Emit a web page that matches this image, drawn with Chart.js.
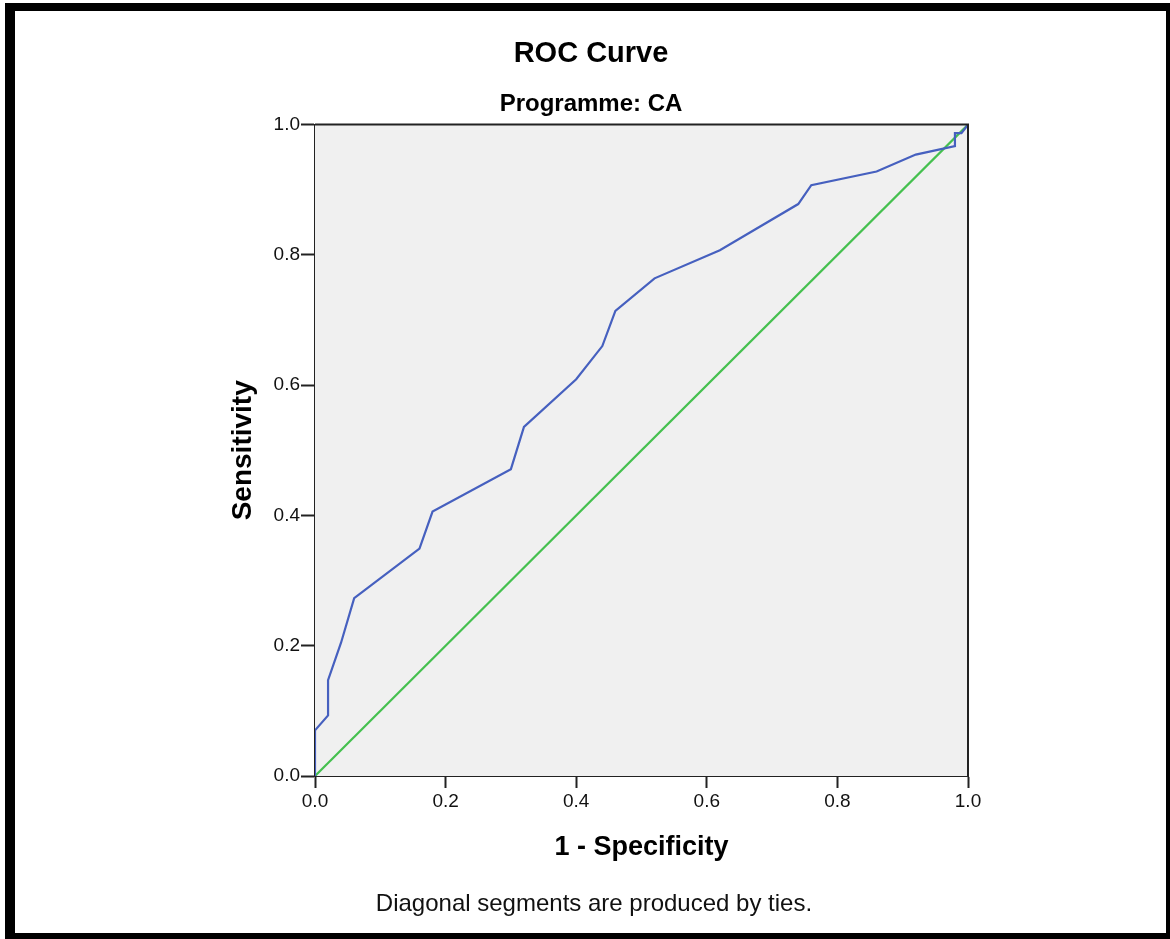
<!DOCTYPE html>
<html>
<head>
<meta charset="utf-8">
<title>ROC Curve</title>
<script src="https://cdn.jsdelivr.net/npm/chart.js@4.4.1/dist/chart.umd.min.js"></script>
<style>
  html, body { margin: 0; padding: 0; background: #fff; }
  #wrap { position: absolute; left: 0; top: 0; width: 1170px; height: 939px; }
  #frame {
    position: absolute; left: 5px; top: 3px; width: 1165px; height: 936px;
    box-sizing: border-box; border: solid #000; border-width: 8px 4px 6px 10px;
    pointer-events: none;
  }
  #note {
    position: absolute; left: 0; top: 889px; width: 1188px; text-align: center;
    font: 24px "Liberation Sans", Arial, sans-serif; line-height: 28px; color: #111;
  }
</style>
</head>
<body>
<div id="wrap"><canvas id="roc"></canvas></div>
<div id="frame"></div>
<div id="note">Diagonal segments are produced by ties.</div>
<script>
  // ROC points
  const fpr = [0, 0, 0.02, 0.02, 0.04, 0.06, 0.16, 0.18, 0.30, 0.32, 0.40, 0.44, 0.46, 0.52, 0.62, 0.74, 0.76, 0.86, 0.92, 0.98, 0.98, 0.99, 1.0];
  const tpr = [0, 0.07, 0.093, 0.147, 0.205, 0.273, 0.349, 0.406, 0.471, 0.536, 0.609, 0.66, 0.714, 0.764, 0.807, 0.878, 0.907, 0.928, 0.954, 0.967, 0.987, 0.987, 1.0];
  const refX = [0, 1];
  const refY = [0, 1];
  const tickValues = [0, 0.2, 0.4, 0.6, 0.8, 1.0];
  const tickLabels = ["0.0", "0.2", "0.4", "0.6", "0.8", "1.0"];

  const FONT = '"Liberation Sans", Arial, sans-serif';
  Chart.defaults.font.family = FONT;
  Chart.defaults.color = "#000";

  const toPoints = (xs, ys) => xs.map((x, i) => ({ x: x, y: ys[i] }));
  const setTicks = scale => { scale.ticks = tickValues.map(v => ({ value: v })); };
  const labelFor = v => {
    const i = tickValues.findIndex(t => Math.abs(t - v) < 1e-9);
    return i >= 0 ? tickLabels[i] : "";
  };

  // grey plot background + box on top/right
  const plotBox = {
    id: "plotBox",
    beforeDatasetsDraw(chart) {
      const { ctx, chartArea: a } = chart;
      ctx.save();
      ctx.fillStyle = "#f0f0f0";
      ctx.fillRect(a.left, a.top, a.right - a.left, a.bottom - a.top);
      ctx.restore();
    },
    afterDatasetsDraw(chart) {
      const { ctx, chartArea: a } = chart;
      ctx.save();
      ctx.strokeStyle = "#222";
      ctx.lineWidth = 2;
      ctx.beginPath();
      ctx.moveTo(a.left, a.top);
      ctx.lineTo(a.right, a.top);
      ctx.lineTo(a.right, a.bottom);
      ctx.stroke();
      ctx.restore();
    }
  };

  new Chart(document.getElementById("roc"), {
    type: "scatter",
    data: {
      datasets: [
        {
          data: toPoints(fpr, tpr),
          showLine: true,
          borderColor: "#4660bf",
          borderWidth: 2.2,
          pointRadius: 0,
          tension: 0
        },
        {
          data: toPoints(refX, refY),
          showLine: true,
          borderColor: "#45c04f",
          borderWidth: 2.2,
          pointRadius: 0
        }
      ]
    },
    options: {
      responsive: true,
      maintainAspectRatio: false,
      animation: false,
      layout: { padding: { top: 0, left: 214, right: 202, bottom: 74.8 } },
      plugins: {
        legend: { display: false },
        tooltip: { enabled: false },
        title: {
          display: true,
          text: "ROC Curve",
          font: { size: 29, weight: "bold" },
          padding: { top: 37, bottom: 0 }
        },
        subtitle: {
          display: true,
          text: "Programme: CA",
          color: "#000",
          font: { size: 24, weight: "bold" },
          padding: { top: 18.5, bottom: 5.5 }
        }
      },
      scales: {
        x: {
          type: "linear",
          min: 0,
          max: 1,
          afterBuildTicks: setTicks,
          afterFit: s => { s.height = 88.2; },
          ticks: { callback: labelFor, font: { size: 19 }, color: "#111", padding: 2, maxRotation: 0 },
          grid: { drawOnChartArea: false, tickLength: 12, tickColor: "#222", tickWidth: 2 },
          border: { color: "#222", width: 2 },
          title: {
            display: true,
            text: "1 - Specificity",
            font: { size: 27, weight: "bold" },
            padding: { top: 0, bottom: 0 }
          }
        },
        y: {
          type: "linear",
          min: 0,
          max: 1,
          afterBuildTicks: setTicks,
          afterFit: s => { s.width = 101; },
          ticks: { callback: labelFor, font: { size: 19 }, color: "#111", padding: 1 },
          grid: { drawOnChartArea: false, tickLength: 14, tickColor: "#222", tickWidth: 2 },
          border: { color: "#222", width: 2 },
          title: {
            display: true,
            text: "Sensitivity",
            font: { size: 28, weight: "bold" },
            padding: { top: 12.2, bottom: 0 }
          }
        }
      }
    },
    plugins: [plotBox]
  });
</script>
</body>
</html>
